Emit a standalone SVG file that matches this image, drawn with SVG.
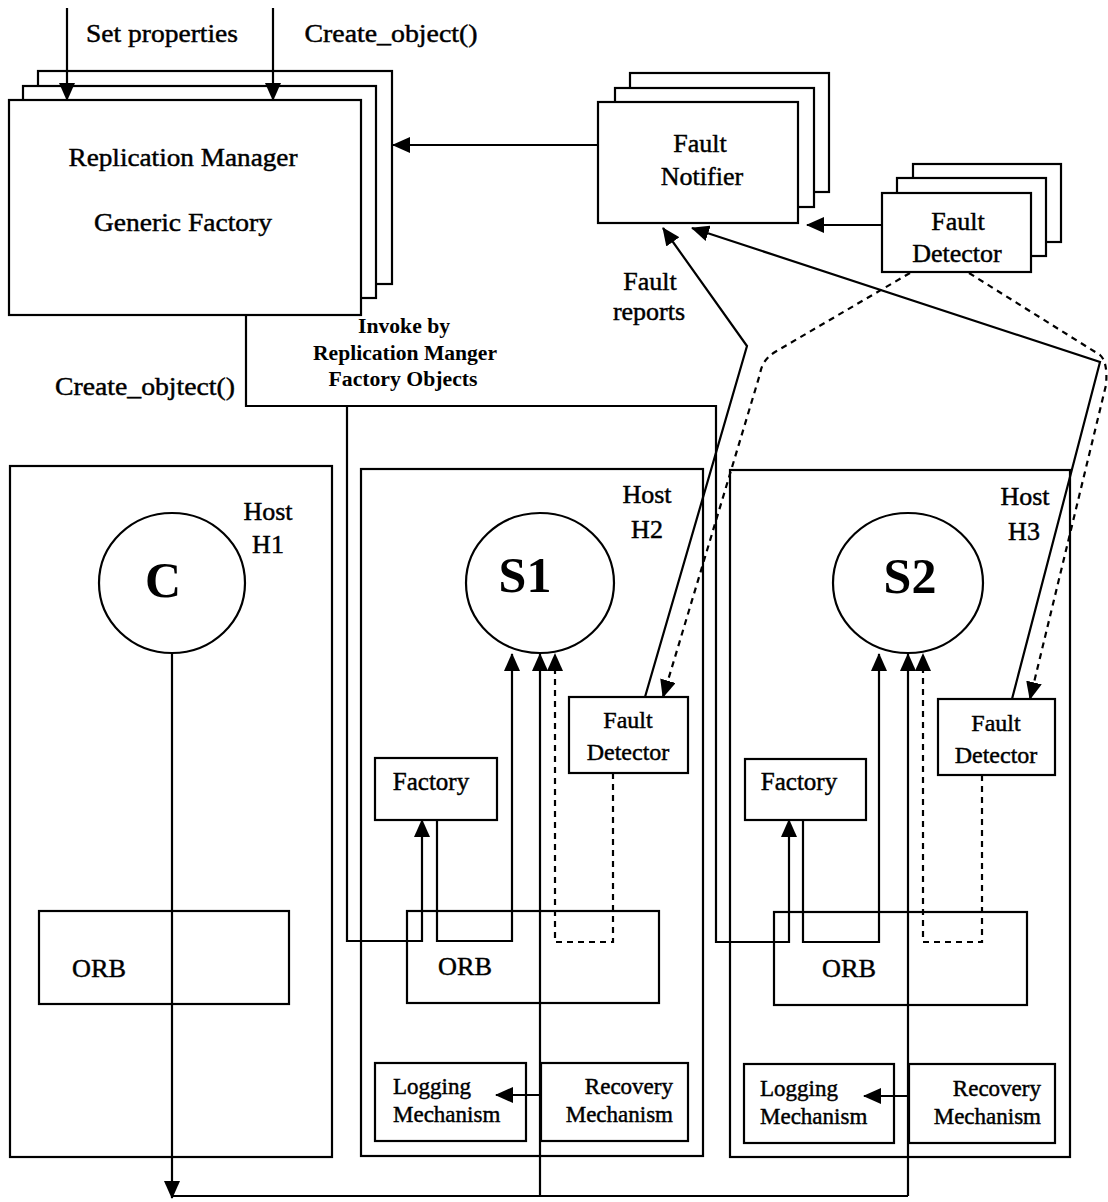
<svg xmlns="http://www.w3.org/2000/svg" width="1108" height="1202" viewBox="0 0 1108 1202">
<style>
.b{fill:#fff;stroke:#000;stroke-width:2.2}
.l{fill:none;stroke:#000;stroke-width:2.2}
.d{fill:none;stroke:#000;stroke-width:2.2;stroke-dasharray:6 5}
text{font-family:"Liberation Serif","Times New Roman",serif;fill:#000;stroke:#000;stroke-width:0.45;font-size:26px}
.m{text-anchor:middle}
.e{text-anchor:end}
.big{font-weight:bold;font-size:50px;text-anchor:middle;stroke-width:0}
.sm{font-size:23px}
.inv{font-weight:bold;font-size:20px;text-anchor:middle;stroke-width:0}
</style>
<defs>
<marker id="ah" markerWidth="18" markerHeight="16" refX="17" refY="8" orient="auto" markerUnits="userSpaceOnUse"><path d="M0,0 L18,8 L0,16 z" fill="#000"/></marker>
</defs>
<rect width="1108" height="1202" fill="#fff"/>

<g id="replication-manager">
<rect class="b" x="38" y="71" width="354" height="213"/>
<rect class="b" x="23" y="86" width="353" height="212"/>
<rect class="b" x="9" y="100" width="352" height="215"/>
<text class="m" x="183" y="166" textLength="229" lengthAdjust="spacingAndGlyphs">Replication Manager</text>
<text class="m" x="183" y="231" textLength="178" lengthAdjust="spacingAndGlyphs">Generic Factory</text>
</g>

<g id="fault-notifier">
<rect class="b" x="630" y="73" width="199" height="119"/>
<rect class="b" x="615" y="88" width="199" height="119"/>
<rect class="b" x="598" y="102" width="200" height="121"/>
<text class="m" x="700" y="152">Fault</text>
<text class="m" x="702" y="185">Notifier</text>
</g>

<g id="fault-detector-top">
<rect class="b" x="913" y="164" width="148" height="78"/>
<rect class="b" x="897" y="178" width="149" height="78"/>
<rect class="b" x="882" y="193" width="149" height="79"/>
<text class="m" x="958" y="230">Fault</text>
<text class="m" x="957" y="262">Detector</text>
</g>

<g id="host-h1">
<rect class="b" x="10" y="466" width="322" height="691"/>
<text class="m" x="268" y="520">Host</text>
<text class="m" x="268" y="553">H1</text>
</g>
<g id="client-c">
<ellipse class="b" cx="172" cy="583" rx="73" ry="70"/>
<text class="big" x="163" y="597">C</text>
</g>
<g id="orb-h1">
<rect class="b" x="39" y="911" width="250" height="93"/>
<text x="72" y="977" textLength="54" lengthAdjust="spacingAndGlyphs">ORB</text>
</g>

<g id="host-h2">
<rect class="b" x="361" y="469" width="342" height="687"/>
<text class="m" x="647" y="503">Host</text>
<text class="m" x="647" y="538">H2</text>
</g>
<g id="server-s1">
<ellipse class="b" cx="540" cy="583" rx="74" ry="70"/>
<text class="big" x="525" y="592">S1</text>
</g>
<g id="fault-detector-h2">
<rect class="b" x="569" y="697" width="119" height="76"/>
<text class="m" x="628" y="728" style="font-size:24px">Fault</text>
<text class="m" x="628" y="760" style="font-size:24px">Detector</text>
</g>
<g id="factory-h2">
<rect class="b" x="375" y="758" width="122" height="62"/>
<text class="m" x="431" y="790" style="font-size:25px">Factory</text>
</g>
<g id="orb-h2">
<rect class="b" x="407" y="911" width="252" height="92"/>
<text x="438" y="975" textLength="54" lengthAdjust="spacingAndGlyphs">ORB</text>
</g>
<g id="logging-h2">
<rect class="b" x="375" y="1063" width="151" height="78"/>
<text class="sm" x="393" y="1094">Logging</text>
<text class="sm" x="393" y="1122">Mechanism</text>
</g>
<g id="recovery-h2">
<rect class="b" x="541" y="1063" width="147" height="78"/>
<text class="sm e" x="673" y="1094">Recovery</text>
<text class="sm e" x="673" y="1122">Mechanism</text>
</g>

<g id="host-h3">
<rect class="b" x="730" y="470" width="340" height="687"/>
<text class="m" x="1025" y="505">Host</text>
<text class="m" x="1024" y="540">H3</text>
</g>
<g id="server-s2">
<ellipse class="b" cx="908" cy="583" rx="75" ry="70"/>
<text class="big" x="910" y="593">S2</text>
</g>
<g id="fault-detector-h3">
<rect class="b" x="938" y="699" width="117" height="76"/>
<text class="m" x="996" y="731" style="font-size:24px">Fault</text>
<text class="m" x="996" y="763" style="font-size:24px">Detector</text>
</g>
<g id="factory-h3">
<rect class="b" x="745" y="759" width="121" height="61"/>
<text class="m" x="799" y="790" style="font-size:25px">Factory</text>
</g>
<g id="orb-h3">
<rect class="b" x="774" y="912" width="253" height="93"/>
<text x="822" y="977" textLength="54" lengthAdjust="spacingAndGlyphs">ORB</text>
</g>
<g id="logging-h3">
<rect class="b" x="744" y="1064" width="150" height="79"/>
<text class="sm" x="760" y="1096">Logging</text>
<text class="sm" x="760" y="1124">Mechanism</text>
</g>
<g id="recovery-h3">
<rect class="b" x="909" y="1064" width="146" height="79"/>
<text class="sm e" x="1041" y="1096">Recovery</text>
<text class="sm e" x="1041" y="1124">Mechanism</text>
</g>

<g id="connectors">
<path class="l" d="M67,8 V100" marker-end="url(#ah)"/>
<path class="l" d="M273,8 V100" marker-end="url(#ah)"/>
<path class="l" d="M598,145 H393" marker-end="url(#ah)"/>
<path class="l" d="M882,225 H807" marker-end="url(#ah)"/>
<path class="l" d="M645,697 L747,346 L663,228" marker-end="url(#ah)"/>
<path class="l" d="M1012,699 L1100,362 L692,228" marker-end="url(#ah)"/>
<path class="d" d="M910,273 L775,352 Q762,360 760,374 L663,697" marker-end="url(#ah)"/>
<path class="d" d="M969,273 L1100,355 Q1108,362 1106,385 L1030,699" marker-end="url(#ah)"/>
<path class="l" d="M246,316 V406 H716 V942 H789 V820" marker-end="url(#ah)"/>
<path class="l" d="M347,406 V941 H422 V820" marker-end="url(#ah)"/>
<path class="l" d="M437,820 V941 H512 V654" marker-end="url(#ah)"/>
<path class="l" d="M803,820 V942 H879 V654" marker-end="url(#ah)"/>
<path class="d" d="M613,773 V942 H555 V654" marker-end="url(#ah)"/>
<path class="d" d="M982,775 V942 H923 V654" marker-end="url(#ah)"/>
<path class="l" d="M172,653 V1198" marker-end="url(#ah)"/>
<path class="l" d="M172,1196 H908"/>
<path class="l" d="M540,1196 V654" marker-end="url(#ah)"/>
<path class="l" d="M908,1196 V654" marker-end="url(#ah)"/>
<path class="l" d="M541,1095 H496" marker-end="url(#ah)"/>
<path class="l" d="M909,1096 H864" marker-end="url(#ah)"/>
</g>

<g id="labels">
<text class="m" x="162" y="42" textLength="152" lengthAdjust="spacingAndGlyphs">Set properties</text>
<text class="m" x="391" y="42" textLength="173" lengthAdjust="spacingAndGlyphs">Create_object()</text>
<text class="m" x="650" y="290">Fault</text>
<text class="m" x="649" y="320">reports</text>
<text class="inv" x="404" y="333" textLength="92" lengthAdjust="spacingAndGlyphs">Invoke by</text>
<text class="inv" x="405" y="360" textLength="184" lengthAdjust="spacingAndGlyphs">Replication Manger</text>
<text class="inv" x="403" y="386" textLength="149" lengthAdjust="spacingAndGlyphs">Factory Objects</text>
<text class="m" x="145" y="395" textLength="180" lengthAdjust="spacingAndGlyphs">Create_objtect()</text>
</g>
</svg>
